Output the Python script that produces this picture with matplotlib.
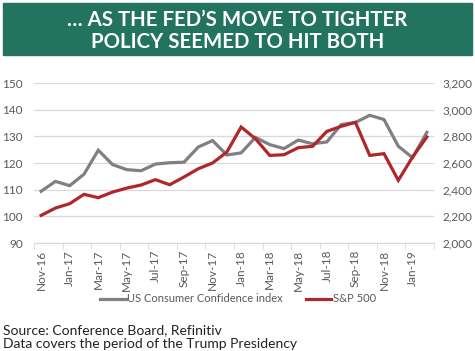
import matplotlib
matplotlib.use("Agg")
import matplotlib.pyplot as plt
import numpy as np

plt.rcParams['font.family'] = ['Lato', 'DejaVu Sans']

months = ['Nov-16', 'Dec-16', 'Jan-17', 'Feb-17', 'Mar-17', 'Apr-17', 'May-17',
          'Jun-17', 'Jul-17', 'Aug-17', 'Sep-17', 'Oct-17', 'Nov-17', 'Dec-17',
          'Jan-18', 'Feb-18', 'Mar-18', 'Apr-18', 'May-18', 'Jun-18', 'Jul-18',
          'Aug-18', 'Sep-18', 'Oct-18', 'Nov-18', 'Dec-18', 'Jan-19', 'Feb-19']

confidence = [109.4, 113.1, 111.5, 115.8, 124.8, 119.4, 117.5, 117.1, 119.6,
              120.1, 120.3, 126.0, 128.4, 123.0, 123.8, 129.6, 126.9, 125.4,
              128.6, 127.2, 127.9, 134.4, 135.2, 137.9, 136.3, 126.3, 122.0, 131.5]

sp500 = [2207, 2262, 2295, 2365, 2340, 2382, 2412, 2435, 2475, 2437, 2495,
         2557, 2600, 2682, 2870, 2782, 2657, 2662, 2715, 2725, 2837, 2875,
         2905, 2657, 2670, 2470, 2645, 2795]

title_lines = ["\u2026 AS THE FED\u2019S MOVE TO TIGHTER", "POLICY SEEMED TO HIT BOTH"]
source_lines = ["Source: Conference Board, Refinitiv",
                "Data covers the period of the Trump Presidency"]

GREEN = '#22735f'
GRAY = '#808080'
RED = '#b0272b'
TXT = '#595959'
GRID = '#d9d9d9'

fig = plt.figure(figsize=(4.75, 3.51), dpi=100)

# title banner
fig.patches.append(plt.Rectangle((3 / 475, 1 - 55 / 351), 469 / 475, 52 / 351,
                                 transform=fig.transFigure, color=GREEN, zorder=0))
fig.text(0.5, 1 - 20 / 351, title_lines[0], ha='center', va='center',
         color='white', fontsize=14.7, fontweight='bold')
fig.text(0.5, 1 - 42 / 351, title_lines[1], ha='center', va='center',
         color='white', fontsize=14.7, fontweight='bold')

ax = fig.add_axes([34 / 475, 1 - 243 / 351, 400 / 475, 160 / 351])
ax2 = ax.twinx()

x = np.arange(len(months))
ax.plot(x, confidence, color=GRAY, lw=2.3, solid_joinstyle='miter')
ax2.plot(x, sp500, color=RED, lw=2.3, solid_joinstyle='miter')

ax.set_xlim(-0.5, len(months) - 0.5)
ax.set_ylim(90, 150)
ax.set_yticks(np.arange(90, 151, 10))
ax2.set_ylim(2000, 3200)
ax2.set_yticks(np.arange(2000, 3201, 200))
ax2.set_yticklabels(['{:,}'.format(v) for v in range(2000, 3201, 200)])

ax.grid(axis='y', color=GRID, lw=0.9)
ax.set_axisbelow(True)

for a in (ax, ax2):
    for s in ['top', 'left', 'right']:
        a.spines[s].set_visible(False)
    a.spines['bottom'].set_color(GRID)
    a.tick_params(axis='y', length=0, labelsize=8.5, labelcolor=TXT)

ax.tick_params(axis='y', pad=8)
ax2.tick_params(axis='y', pad=6)

ax.set_xticks(x[::2])
ax.set_xticklabels(months[::2], rotation=90, fontsize=8.5, color=TXT)
ax.set_xticks(np.arange(-0.5, len(months), 2), minor=True)
ax.tick_params(axis='x', which='major', length=0, pad=5)
ax.tick_params(axis='x', which='minor', length=4, color=GRID, direction='out')

# legend
h1, = ax.plot([], [], color=GRAY, lw=2.3)
h2, = ax.plot([], [], color=RED, lw=2.3)
fig.legend([h1, h2], ['US Consumer Confidence index', 'S&P 500'],
           loc='center', bbox_to_anchor=(238 / 475, 1 - 299 / 351), ncol=2,
           frameon=False, fontsize=8, labelcolor=TXT, handlelength=2.3,
           handletextpad=0.1, columnspacing=2.1)

fig.text(3 / 475, 1 - 330 / 351, source_lines[0], ha='left', va='center',
         fontsize=10, color='#222222')
fig.text(3 / 475, 1 - 344 / 351, source_lines[1], ha='left', va='center',
         fontsize=10, color='#222222')

fig.savefig('out.png', dpi=100)
